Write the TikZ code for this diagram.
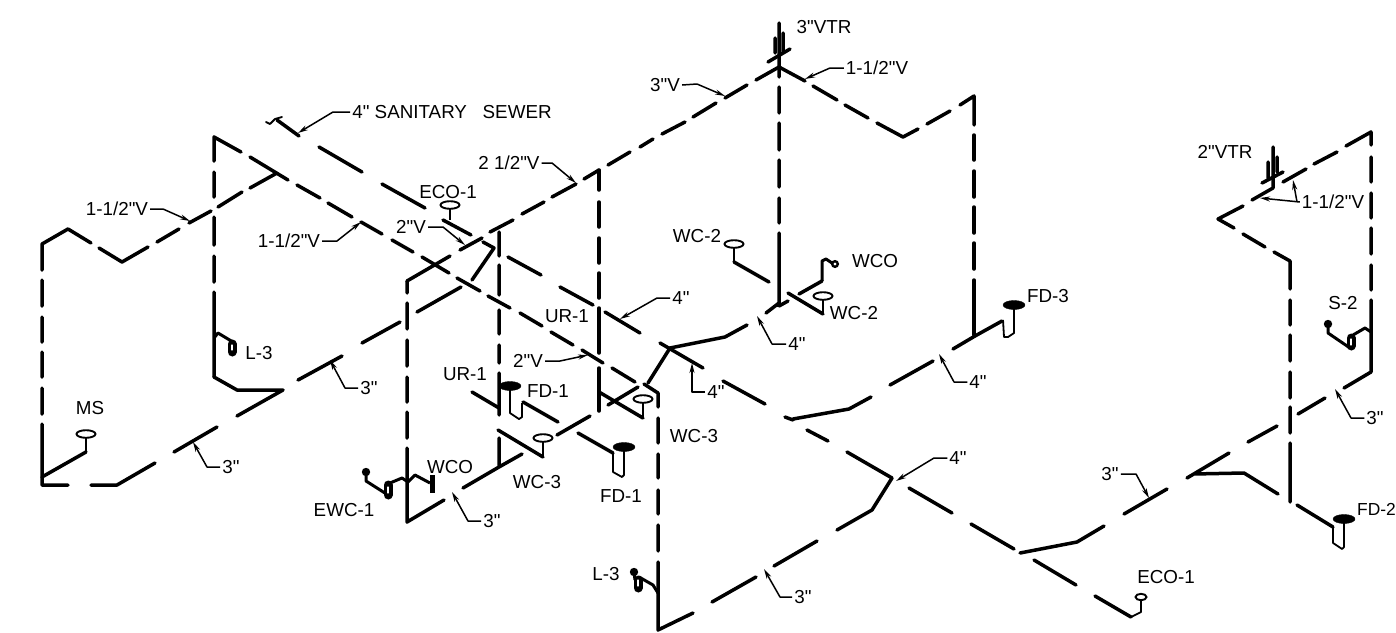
\documentclass[tikz,border=0pt]{standalone}
\usepackage{fontspec}
\setmainfont{Liberation Sans}[Ligatures=TeXOff]
\usetikzlibrary{arrows.meta}
\tikzset{
  pipe/.style={line width=3.5pt,line cap=round,line join=round,black},
  tube/.style={line width=1.8pt,line join=round,black},
  fix/.style={line width=3pt,line join=round,black},
  leader/.style={line width=1.5pt,line join=round,black,-{Stealth[length=10pt,width=5pt]}},
  lbl/.style={font=\fontsize{18.8}{19}\selectfont,inner sep=2pt,text=black},
  eye/.style={line width=1.9pt,draw=black,fill=white},
  disc/.style={fill=black,draw=black},
  trapo/.style={line width=9pt,line cap=round,black},
  trapi/.style={line width=1.1pt,line cap=round,white}
}
\begin{document}
\begin{tikzpicture}[x=1pt,y=-1pt]
\useasboundingbox (0,0) rectangle (1396,632);
% left upper run
\draw[pipe] (42,270)--(42,244)--(68,229)--(91,243) (99,248)--(122,262)--(148,247) (157,242)--(179,229) (189,223)--(211,211) (218,207)--(242,192) (250,188)--(277,173);
\draw[pipe] (42,280)--(42,306) (42,317)--(42,342) (42,352)--(42,377) (42,388)--(42,414) (42,424)--(42,485)--(68,485) (91,485)--(117,485)--(155,463) (174,452)--(217,427) (237,416)--(283,390)--(237,390)--(214,377);
\draw[pipe] (214,161)--(214,137)--(241,152) (214,172)--(214,197) (214,217)--(214,245) (214,256)--(214,282) (214,292)--(214,377);
% long diagonal
\draw[pipe] (250,157)--(288,180) (297,185)--(320,198) (328,203)--(352,217) (361,222)--(382,234) (392,240)--(413,252) (422,257)--(449,273) (457,278)--(480,291) (488,296)--(510,308) (520,313)--(542,326) (551,332)--(573,345) (582,350)--(603,363) (612,368)--(635,382) (644,384)--(658,393)--(658,407);
\draw[pipe] (658,418)--(658,443) (658,454)--(658,478) (658,490)--(658,514) (658,525)--(658,551) (658,562)--(658,630)--(693,613) (712,602)--(756,577) (774,566)--(817,541) (837,530)--(872,510)--(892,478);
% sewer main
\draw[pipe] (277,120)--(299,136) (319,147)--(362,172) (382,184)--(425,208) (443,220)--(471,235) (483,242)--(494,248)--(472,280) (508,257)--(541,275) (560,287)--(593,305) (605,312)--(640,333) (660,343)--(703,368) (723,381)--(765,404) (785,417)--(793,420) (807,430)--(828,441) (847,452)--(892,478) (909,488)--(952,513) (971,524)--(1014,549) (1034,560)--(1076,585) (1095,596)--(1131,617);
\draw[line width=1.8pt,line cap=round,line join=round] (266,122)--(270,124)--(275,119)--(282,117);
% 3 inch lower
\draw[pipe] (298,380)--(342,356) (362,343)--(400,322) (417,312)--(461,287) (407,281)--(450,256) (460,250)--(482,238) (490,232)--(513,220) (522,214)--(544,202) (552,197)--(576,184) (584,179)--(599,170) (608,165)--(630,152) (640,147)--(653,139) (662,134)--(685,122) (693,117)--(716,103) (725,98)--(747,85) (756,80)--(779,67)--(805,81) (813,86)--(837,100) (845,105)--(868,118) (877,123)--(903,137)--(918,129) (927,124)--(950,111) (960,105)--(974,96)--(974,125);
% verticals
\draw[pipe] (407,281)--(407,293) (407,303)--(407,329) (407,340)--(407,366) (407,377)--(407,402) (407,412)--(407,438) (407,448)--(407,522)--(444,500);
\draw[pipe] (499,232)--(499,256) (499,265)--(499,295) (499,310)--(499,334) (499,345)--(499,363) (499,373)--(499,415) (499,438)--(499,467) (522,454)--(499,467)--(463,488);
\draw[pipe] (599,170)--(599,190) (599,202)--(599,227) (599,238)--(599,263) (599,273)--(599,298) (599,308)--(599,353) (599,368)--(599,411);
\draw[pipe] (779,23)--(779,77) (779,87)--(779,113) (779,123)--(779,150) (779,160)--(779,187) (779,198)--(779,223) (779,233)--(779,303)--(766,313) (779,306)--(788,301) (747,325)--(725,337)--(670,348)--(648,383);
\draw[pipe] (974,135)--(974,160) (974,171)--(974,197) (974,207)--(974,233) (974,243)--(974,269) (974,280)--(974,335);
% branches
\draw[pipe] (953,349)--(975,336)--(1002,321) (890,385)--(933,361) (793,419)--(849,409)--(871,397) (1020,553)--(1077,542)--(1104,526) (1124,514)--(1167,489);
\draw[pipe] (608,405)--(638,387) (599,392)--(643,418) (590,416)--(557,435) (578,433)--(613,453) (498,430)--(543,457) (472,392)--(499,408) (523,402)--(558,422) (734,262)--(769,282) (799,294)--(822,281) (788,293)--(823,314);
% right system
\draw[pipe] (1187,478)--(1229,453) (1193,474)--(1244,473)--(1278,494) (1248,442)--(1277,426) (1298,414)--(1325,398) (1344,388)--(1371,372)--(1371,300) (1290,335)--(1290,361) (1290,372)--(1290,398) (1290,407)--(1290,433) (1290,443)--(1290,502) (1297,505)--(1333,527);
\draw[pipe] (1371,145)--(1371,132)--(1346,146) (1337,152)--(1314,164) (1306,169)--(1283,182) (1371,157)--(1371,182) (1371,193)--(1371,218) (1371,228)--(1371,254) (1371,265)--(1371,290);
\draw[pipe] (1273,147)--(1273,188)--(1252,200) (1243,206)--(1218,219)--(1234,228) (1243,234)--(1265,247) (1274,252)--(1290,261)--(1290,289) (1290,300)--(1290,325);
\draw[pipe] (1268,162)--(1268,178) (1277,157)--(1277,172) (1262,183)--(1283,172);
\draw[pipe] (775,38)--(775,53) (783,33)--(783,52) (768,62)--(790,49);
% small tubes
\draw[tube] (86,438)--(86,452);
\draw[pipe] (86,452)--(42,477);
\draw[eye] (86,434) ellipse [x radius=9.5,y radius=3.8];
\draw[tube] (450,208)--(450,220);
\draw[eye] (450,205) ellipse [x radius=9.5,y radius=3.8];
\draw[tube] (543,457)--(543,440);
\draw[eye] (543,438) ellipse [x radius=9.5,y radius=3.8];
\draw[tube] (643,418)--(643,400);
\draw[eye] (643,399) ellipse [x radius=9.5,y radius=3.8];
\draw[tube] (734,248)--(734,262);
\draw[eye] (734,244) ellipse [x radius=9.5,y radius=3.8];
\draw[tube] (823,314)--(823,298);
\draw[eye] (823,296) ellipse [x radius=9.5,y radius=3.8];
\draw[tube] (1131,617)--(1141,612)--(1141,600);
\draw[eye] (1141,597) ellipse [x radius=5.5,y radius=3.2];
% floor drains
\draw[tube] (510,386)--(510,413)--(519,419)--(522,417)--(522,403);
\draw[disc] (510,386) ellipse [x radius=11,y radius=4.5];
\draw[tube] (613,453)--(613,472)--(622,477)--(624,475)--(624,448);
\draw[disc] (624,447) ellipse [x radius=11,y radius=4.5];
\draw[tube] (1003,320)--(1004,337)--(1008,337)--(1014,333)--(1014,305);
\draw[disc] (1014,305) ellipse [x radius=11,y radius=4.5];
\draw[tube] (1333,527)--(1333,543)--(1342,549)--(1344,547)--(1344,523);
\draw[disc] (1344,519) ellipse [x radius=11,y radius=4.5];
% WCO
\draw[fix] (822,281)--(822,261)--(826,259)--(832,263);
\draw[line width=2.4pt] (835,264) circle (2.8);
% traps
\draw[fix] (214,338)--(218,333)--(233,342);
\draw[trapo] (232,344)--(232,352);
\draw[trapi] (232,345)--(232,350);
\draw[fix] (639,577)--(653,585)--(658,593);
\draw[trapo] (638,580)--(638,588);
\draw[trapi] (638,580)--(638,586);
\fill (634,572) circle (4.2);
\draw[fix] (634,572)--(635,580);
\draw[fix] (366,472)--(366,481)--(388,495);
\fill (366,472) circle (4.2);
\draw[trapo] (388,485)--(388,495);
\draw[trapi] (388,487)--(388,493);
\draw[fix] (390,483)--(402,478)--(408,482)--(415,475)--(430,483);
\draw[line width=5pt] (432,475)--(432,493);
\fill (1328,324) circle (4.2);
\draw[fix] (1328,324)--(1328,333)--(1350,348);
\draw[trapo] (1351,338)--(1351,346);
\draw[trapi] (1351,339)--(1351,345);
\draw[fix] (1353,335)--(1365,328)--(1371,332);
% labels
\node[lbl] (t1) at (452,112) {4" SANITARY\ \ \ SEWER};
\node[lbl] (t2) at (117,209) {1-1/2"V};
\node[lbl] (t3) at (289,241) {1-1/2"V};
\node[lbl] (t4) at (411,227) {2"V};
\node[lbl] (t5) at (509,163) {2 1/2"V};
\node[lbl] (t6) at (665,85) {3"V};
\node[lbl] (t7) at (877,68) {1-1/2"V};
\node[lbl] (t8) at (824,27) {3"VTR};
\node[lbl] (t9) at (681,298) {4"};
\node[lbl] (t10) at (448,192) {ECO-1};
\node[lbl] (t11) at (567,316) {UR-1};
\node[lbl] (t12) at (528,361) {2"V};
\node[lbl] (t13) at (465,374) {UR-1};
\node[lbl] (t14) at (548,391) {FD-1};
\node[lbl] (t15) at (694,436) {WC-3};
\node[lbl] (t16) at (716,392) {4"};
\node[lbl] (t17) at (797,344) {4"};
\node[lbl] (t18) at (697,236) {WC-2};
\node[lbl] (t19) at (875,261) {WCO};
\node[lbl] (t20) at (854,313) {WC-2};
\node[lbl] (t21) at (1048,296) {FD-3};
\node[lbl] (t22) at (978,382) {4"};
\node[lbl] (t23) at (537,482) {WC-3};
\node[lbl] (t24) at (621,496) {FD-1};
\node[lbl] (t25) at (450,467) {WCO};
\node[lbl] (t26) at (492,521) {3"};
\node[lbl] (t27) at (344,510) {EWC-1};
\node[lbl] (t28) at (90,408) {MS};
\node[lbl] (t29) at (231,467) {3"};
\node[lbl] (t30) at (369,388) {3"};
\node[lbl] (t31) at (259,353) {L-3};
\node[lbl] (t32) at (958,458) {4"};
\node[lbl] (t33) at (803,597) {3"};
\node[lbl] (t34) at (606,574) {L-3};
\node[lbl] (t35) at (1166,577) {ECO-1};
\node[lbl] (t36) at (1110,474) {3"};
\node[lbl] (t37) at (1375,418) {3"};
\node[lbl,anchor=west,inner sep=0pt,font=\fontsize{17.4}{18}\selectfont] (t38) at (1357,509) {FD-2};
\node[lbl] (t39) at (1225,152) {2"VTR};
\node[lbl] (t40) at (1333,202) {1-1/2"V};
\node[lbl] (t41) at (1343,303) {S-2};
% leaders
\draw[leader] (t1.west)--(333,112)--(298,133);
\draw[leader] (t2.east)--(163,209)--(190,221);
\draw[leader] (t3.east)--(337,241)--(361,222);
\draw[leader] (t4.east)--(443,227)--(465,245);
\draw[leader] (t5.east)--(552,163)--(576,183);
\draw[leader] (t6.east)--(697,84)--(725,96);
\draw[leader] (t7.west)--(830,68)--(805,79);
\draw[leader] (t9.west)--(657,298)--(620,319);
\draw[leader] (t12.east)--(560,361)--(588,355);
\draw[leader] (t16.west)--(692,392)--(692,363);
\draw[leader] (t17.west)--(772,344)--(757,316);
\draw[leader] (t22.west)--(954,382)--(939,354);
\draw[leader] (t26.west)--(468,521)--(452,492);
\draw[leader] (t29.west)--(207,467)--(193,442);
\draw[leader] (t30.west)--(345,388)--(330,360);
\draw[leader] (t32.west)--(934,458)--(896,481);
\draw[leader] (t33.west)--(780,597)--(764,569);
\draw[leader] (t36.east)--(1136,474)--(1149,498);
\draw[leader] (t37.west)--(1351,418)--(1335,389);
\draw[leader] (t40.west)--(1260,198);
\draw[leader] (1297,202)--(1293,180);
\end{tikzpicture}
\end{document}
